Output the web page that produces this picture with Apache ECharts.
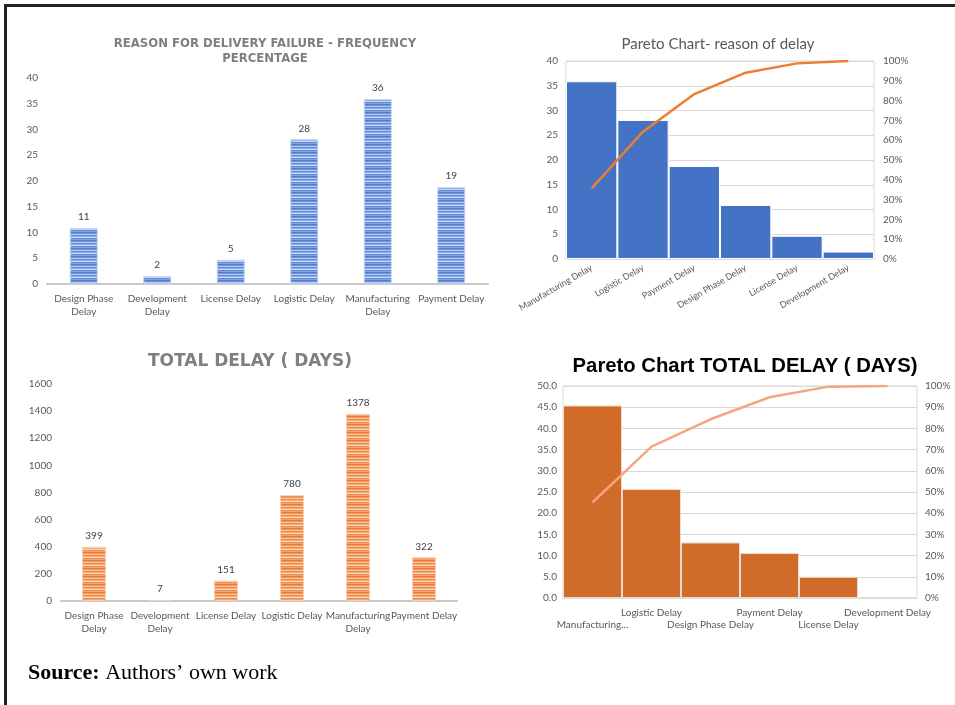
<!DOCTYPE html>
<html>
<head>
<meta charset="utf-8">
<script src="https://cdn.jsdelivr.net/npm/echarts@6/dist/echarts.min.js"></script>
<style>
html,body{margin:0;padding:0;background:#fff;}
#c{width:955px;height:705px;}
</style>
</head>
<body>
<div id="c"></div>
<script>
// ---- data ----
const freqLabels = ['Design Phase\nDelay','Development\nDelay','License Delay','Logistic Delay','Manufacturing\nDelay','Payment Delay'];
const freqValues = [10.9, 1.5, 4.7, 28.1, 35.9, 18.8];

const pareto1Categories = ['Manufacturing Delay','Logistic Delay','Payment Delay','Design Phase Delay','License Delay','Development Delay'];
const pareto1Values = [35.9, 28.1, 18.8, 10.9, 4.7, 1.5];
const pareto1Cumulative = [35.7, 64.3, 83.3, 94.1, 98.8, 100];

const delayLabels = ['Design Phase\nDelay','Development\nDelay','License Delay','Logistic Delay','Manufacturing\nDelay','Payment Delay'];
const delayDays = [399, 7, 151, 780, 1378, 322];

const pareto2Categories = ['Manufacturing...','Logistic Delay','Design Phase Delay','Payment Delay','License Delay','Development Delay'];
const pareto2Values = [45.4, 25.7, 13.1, 10.6, 5.0, 0.2];
const pareto2Cumulative = [45.1, 71.4, 84.3, 94.7, 99.7, 100];

// ---- stripe patterns ----
function stripes(rows){
  const cv = document.createElement('canvas');
  cv.width = 4; cv.height = rows.length;
  const ctx = cv.getContext('2d');
  rows.forEach((c,i)=>{ ctx.fillStyle = c; ctx.fillRect(0,i,4,1); });
  return {image: cv, repeat: 'repeat'};
}
const bluePattern = stripes(['#4f7cca','#7398dd','#afc6ef','#668dd7','#8eade6','#c6d6f4','#6189d5','#84a4e2']);
const orangePattern = stripes(['#ed7d31','#f29a5e','#f8c6a3','#ef8a45','#f4ac7c','#fad6bd','#f0904f','#f3a470']);

const grey = '#595959';
const lab = {color: grey, fontSize: 10, fontFamily: 'Lato'};

const chart = echarts.init(document.getElementById('c'), null, {renderer: 'canvas'});
chart.setOption({
  animation: false,
  backgroundColor: '#fff',
  title: [
    {text: 'REASON FOR DELIVERY FAILURE - FREQUENCY\nPERCENTAGE', left: 260, top: 31, textAlign: 'center',
     textStyle: {fontFamily: 'DejaVu Sans', fontWeight: 'bold', fontSize: 11.7, color: '#7f7f7f', lineHeight: 15}},
    {text: 'Pareto Chart- reason of delay', left: 713, top: 32, textAlign: 'center',
     textStyle: {fontFamily: 'Lato', fontWeight: 'normal', fontSize: 15, color: grey}},
    {text: 'TOTAL DELAY ( DAYS)', left: 245, top: 348, textAlign: 'center',
     textStyle: {fontFamily: 'DejaVu Sans', fontWeight: 'bold', fontSize: 17, color: '#7f7f7f'}},
    {text: '{n|Pareto Chart }{b|TOTAL DELAY ( DAYS)}', left: 740, top: 351, textAlign: 'center',
     textStyle: {rich: {
       n: {fontFamily: 'Liberation Sans', fontSize: 20.3, color: '#000'},
       b: {fontFamily: 'Liberation Sans', fontSize: 20.3, fontWeight: 'bold', color: '#000'}}}}
  ],
  grid: [
    {left: 47, right: 467, top: 78, bottom: 421},
    {left: 566, right: 81, top: 61, bottom: 446, show: true, borderColor: '#d9d9d9', borderWidth: 1},
    {left: 61, right: 498, top: 384, bottom: 104},
    {left: 563, right: 38, top: 386, bottom: 107, show: true, borderColor: '#d9d9d9', borderWidth: 1}
  ],
  xAxis: [
    {type: 'category', gridIndex: 0, data: freqLabels,
     axisLine: {lineStyle: {color: '#c8c8c8', width: 2}}, axisTick: {show: false},
     axisLabel: Object.assign({interval: 0, margin: 8, lineHeight: 13}, lab)},
    {type: 'category', gridIndex: 1, data: pareto1Categories,
     axisLine: {lineStyle: {color: '#d9d9d9'}}, axisTick: {show: false},
     axisLabel: Object.assign({interval: 0, rotate: 30, margin: 8}, lab, {fontSize: 9})},
    {type: 'category', gridIndex: 2, data: delayLabels,
     axisLine: {lineStyle: {color: '#c8c8c8', width: 2}}, axisTick: {show: false},
     axisLabel: Object.assign({interval: 0, margin: 8, lineHeight: 13}, lab)},
    {type: 'category', gridIndex: 3, data: pareto2Categories,
     axisLine: {lineStyle: {color: '#d9d9d9'}}, axisTick: {show: false},
     axisLabel: Object.assign({interval: 0, margin: 9, lineHeight: 12,
       formatter: (v, i) => (i % 2 === 0 ? '\n' + v : v)}, lab)}
  ],
  yAxis: [
    {type: 'value', gridIndex: 0, min: 0, max: 40, interval: 5,
     axisLine: {show: false}, axisTick: {show: false}, splitLine: {show: false},
     axisLabel: Object.assign({margin: 9}, lab)},
    {type: 'value', gridIndex: 1, min: 0, max: 40, interval: 5,
     axisLine: {show: false}, axisTick: {show: false},
     splitLine: {lineStyle: {color: '#d9d9d9'}},
     axisLabel: Object.assign({margin: 8}, lab)},
    {type: 'value', gridIndex: 1, position: 'right', min: 0, max: 100, interval: 10,
     axisLine: {show: false}, axisTick: {show: false}, splitLine: {show: false},
     axisLabel: Object.assign({margin: 9, formatter: '{value}%'}, lab)},
    {type: 'value', gridIndex: 2, min: 0, max: 1600, interval: 200,
     axisLine: {show: false}, axisTick: {show: false}, splitLine: {show: false},
     axisLabel: Object.assign({margin: 9, formatter: v => String(v)}, lab)},
    {type: 'value', gridIndex: 3, min: 0, max: 50, interval: 5,
     axisLine: {show: false}, axisTick: {show: false},
     splitLine: {lineStyle: {color: '#d9d9d9'}},
     axisLabel: Object.assign({margin: 6, formatter: v => v.toFixed(1)}, lab)},
    {type: 'value', gridIndex: 3, position: 'right', min: 0, max: 100, interval: 10,
     axisLine: {show: false}, axisTick: {show: false}, splitLine: {show: false},
     axisLabel: Object.assign({margin: 8, formatter: '{value}%'}, lab)}
  ],
  series: [
    {type: 'bar', xAxisIndex: 0, yAxisIndex: 0, data: freqValues, barWidth: 28,
     itemStyle: {color: bluePattern, borderColor: '#c3d3f1', borderWidth: 1},
     label: {show: true, position: 'top', distance: 6, color: '#404040', fontSize: 10, fontFamily: 'Lato',
       formatter: p => Math.round(p.value)}},
    {type: 'bar', xAxisIndex: 1, yAxisIndex: 1, data: pareto1Values, barCategoryGap: 0,
     itemStyle: {color: '#4472c4', borderColor: '#ffffff', borderWidth: 1}},
    {type: 'line', xAxisIndex: 1, yAxisIndex: 2, data: pareto1Cumulative, symbol: 'none',
     lineStyle: {color: '#ed7d31', width: 2.5}},
    {type: 'bar', xAxisIndex: 2, yAxisIndex: 3, data: delayDays, barWidth: 24,
     itemStyle: {color: orangePattern, borderColor: '#f8cdb0', borderWidth: 1},
     label: {show: true, position: 'top', distance: 6, color: '#404040', fontSize: 10, fontFamily: 'Lato'}},
    {type: 'bar', xAxisIndex: 3, yAxisIndex: 4, data: pareto2Values, barCategoryGap: 0,
     itemStyle: {color: '#d06b29', borderColor: '#f3d9c8', borderWidth: 1}},
    {type: 'line', xAxisIndex: 3, yAxisIndex: 5, data: pareto2Cumulative, symbol: 'none',
     lineStyle: {color: '#f4a582', width: 2.5}}
  ],
  graphic: [
    {type: 'rect', shape: {x: 4, y: 4, width: 951, height: 3}, style: {fill: '#222'}},
    {type: 'rect', shape: {x: 4, y: 4, width: 3, height: 701}, style: {fill: '#222'}},
    {type: 'text', x: 28, y: 673, style: {
      text: '{b|Source:} Authors’ own work', verticalAlign: 'middle',
      font: '22px "Liberation Serif"', fill: '#000',
      rich: {b: {fontFamily: 'Liberation Serif', fontSize: 22, fontWeight: 'bold', fill: '#000'}}}}
  ]
});
</script>
</body>
</html>
